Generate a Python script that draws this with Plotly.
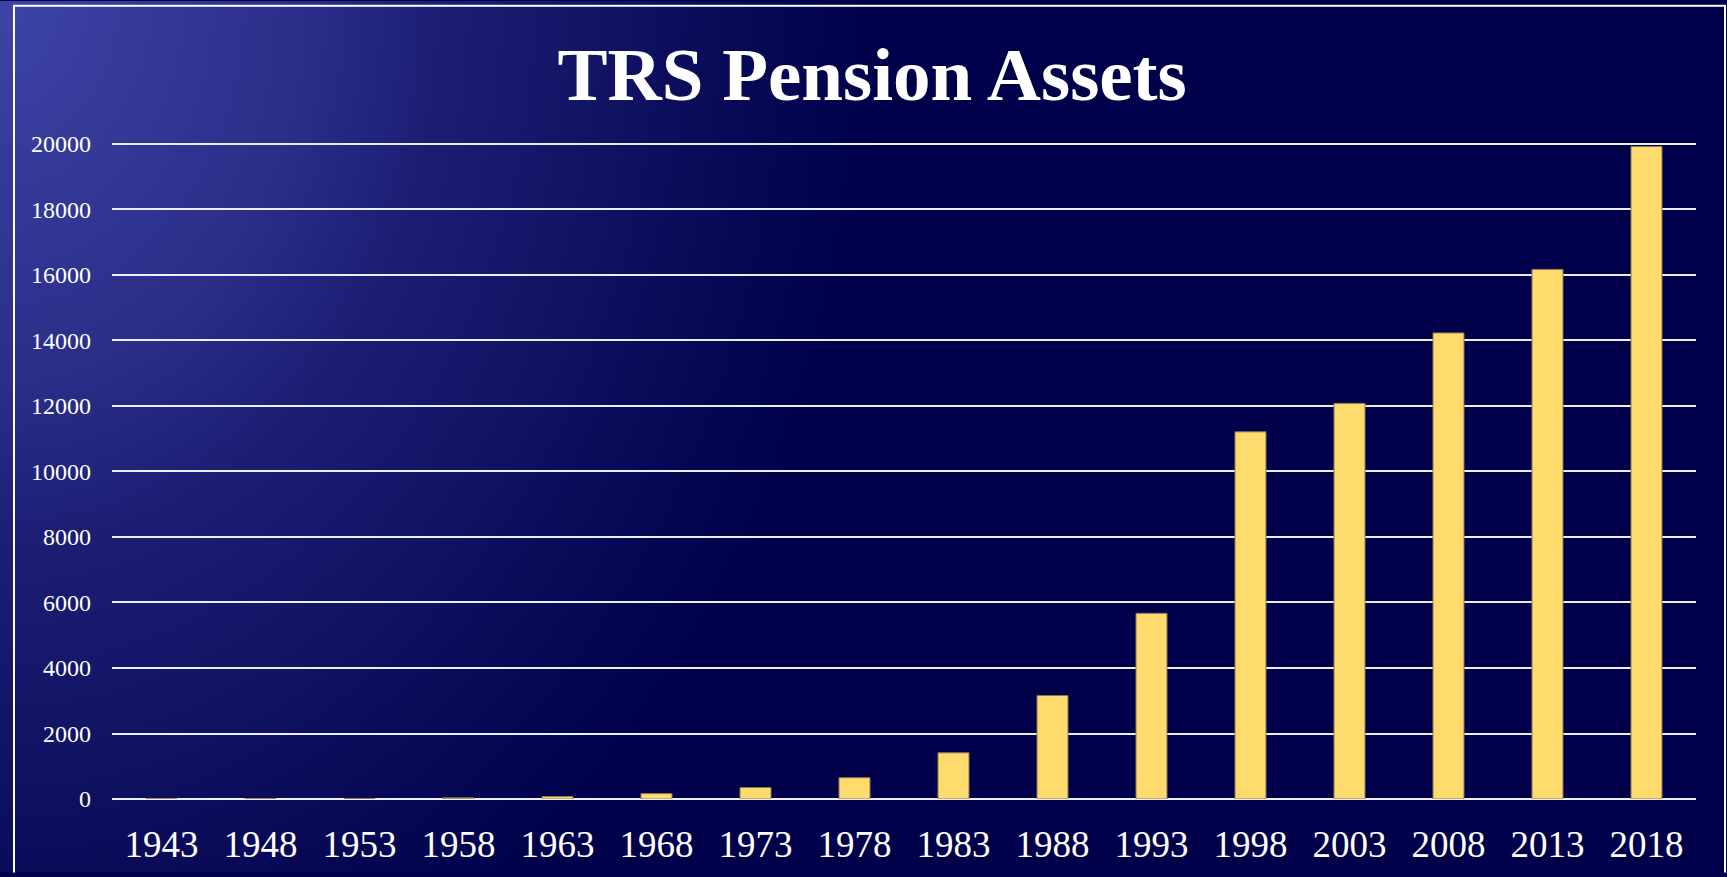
import base64
import plotly.graph_objects as go

# ==========================================
# DATA
# ==========================================
years = ["1943", "1948", "1953", "1958", "1963", "1968", "1973", "1978",
         "1983", "1988", "1993", "1998", "2003", "2008", "2013", "2018"]
assets = [3, 8, 15, 35, 75, 165, 350, 650,
          1410, 3160, 5670, 11210, 12080, 14230, 16170, 19920]
y_ticks = [0, 2000, 4000, 6000, 8000, 10000, 12000, 14000, 16000, 18000, 20000]

# ==========================================
# CONFIG
# ==========================================
W, H = 1727, 877
L, R, T, B = 112, 31, 136, 74          # plot area margins (px)
PW, PH = W - L - R, H - T - B
Y_TOP = 20000 * PH / (PH - 8)          # 20000 gridline 8px below plot top
FONT = "Liberation Serif, Times New Roman, serif"
NAVY = "#00004A"

# slide-like background: glow in the top-left corner + white frame
svg = f"""<svg xmlns='http://www.w3.org/2000/svg' width='{W}' height='{H}' viewBox='0 0 {W} {H}' preserveAspectRatio='none'>
<defs>
<radialGradient id='g' cx='0' cy='0' r='1' gradientUnits='userSpaceOnUse'
 gradientTransform='scale(880,1100)'>
<stop offset='0' stop-color='#3E44A6'/>
<stop offset='0.35' stop-color='#2A2E88'/>
<stop offset='0.5' stop-color='#1C1E74'/>
<stop offset='0.8' stop-color='#0A0C5A'/>
<stop offset='1' stop-color='{NAVY}'/>
</radialGradient>
</defs>
<rect x='0' y='0' width='{W}' height='{H}' fill='{NAVY}'/>
<rect x='0' y='0' width='{W}' height='{H}' fill='url(#g)'/>
<rect x='14' y='5' width='1711' height='{H + 20}' fill='none' stroke='white' stroke-width='2'/>
</svg>"""
bg_src = "data:image/svg+xml;base64," + base64.b64encode(svg.encode()).decode()

# ==========================================
# FIGURE
# ==========================================
fig = go.Figure()

fig.add_trace(go.Bar(
    x=years,
    y=assets,
    marker=dict(color="#FFDB6E", line=dict(color="#8C7B52", width=1)),
    showlegend=False,
))

fig.add_layout_image(dict(
    source=bg_src,
    xref="paper", yref="paper",
    x=-L / PW, y=(PH + T) / PH,
    sizex=W / PW, sizey=H / PH,
    xanchor="left", yanchor="top",
    sizing="stretch", layer="below",
))

fig.update_layout(
    width=W, height=H,
    margin=dict(l=L, r=R, t=T, b=B, pad=0),
    paper_bgcolor=NAVY,
    plot_bgcolor="rgba(0,0,0,0)",
    bargap=0.687,
    title=dict(
        text="<b>TRS Pension Assets</b>",
        font=dict(family=FONT, size=75, color="white"),
        x=0.505, xref="container", xanchor="center",
        y=1 - 74 / H, yref="container", yanchor="middle",
    ),
    xaxis=dict(
        showgrid=False, showline=False, zeroline=False,
        ticks="", ticklabelstandoff=20,
        tickfont=dict(family=FONT, size=37, color="white"),
    ),
    yaxis=dict(
        range=[0, Y_TOP], tickvals=y_ticks, tickformat="d",
        showgrid=True, gridcolor="#EDEDF5", gridwidth=2,
        zeroline=True, zerolinecolor="#EDEDF5", zerolinewidth=2,
        showline=False, ticks="", ticklabelstandoff=20,
        tickfont=dict(family=FONT, size=24, color="white"),
    ),
)

fig.write_html("out.html", config={"displayModeBar": False},
               post_script="document.body.style.margin='0';")
